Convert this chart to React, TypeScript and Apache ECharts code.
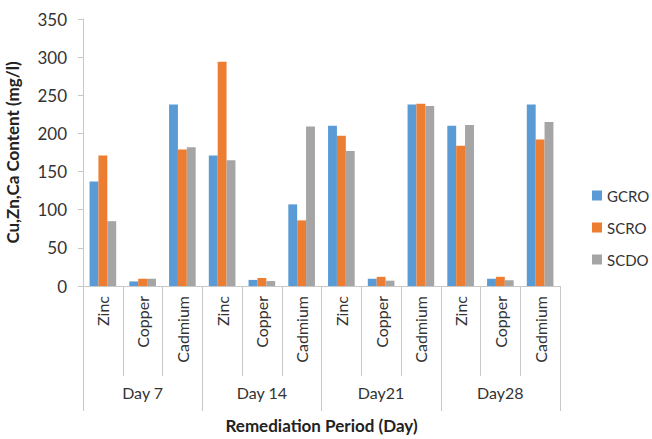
import React, { useEffect, useRef } from "react";
import * as echarts from "echarts";

const metals = ["Zinc", "Copper", "Cadmium", "Zinc", "Copper", "Cadmium", "Zinc", "Copper", "Cadmium", "Zinc", "Copper", "Cadmium"];
const days = ["Day 7", "Day 14", "Day21", "Day28"];
const gcro = [137, 6, 238, 171, 8, 107, 210, 9.5, 238, 210, 9.5, 238];
const scro = [171, 9.5, 179, 294, 10.5, 86, 197, 12, 239, 184, 12, 192];
const scdo = [85, 9.5, 182, 165, 6.5, 209, 177, 7, 236, 211, 7.5, 215];
const yTicks = { min: 0, max: 350, interval: 50 };

const FONT = "Lato";
const TXT = "#333333";
const LINE = "#c8c8c8";

export default function App() {
  const ref = useRef<HTMLDivElement>(null);
  useEffect(() => {
    if (!ref.current) return;
    const chart = echarts.init(ref.current, undefined, { renderer: "svg" });
    chart.setOption({
      animation: false,
      textStyle: { fontFamily: FONT },
      grid: { left: 83, right: 92, top: 19, bottom: 153, containLabel: false, outerBoundsMode: "none" },
      legend: {
        orient: "vertical",
        left: 592,
        top: 188,
        padding: 0,
        itemWidth: 10,
        itemHeight: 10,
        itemGap: 17,
        icon: "rect",
        textStyle: { fontFamily: FONT, fontSize: 15, color: TXT },
        data: ["GCRO", "SCRO", "SCDO"],
      },
      xAxis: [
        {
          type: "category",
          data: metals,
          position: "bottom",
          axisLine: { show: true, lineStyle: { color: LINE, width: 1 } },
          axisTick: { show: true, length: 90, interval: 0, lineStyle: { color: LINE } },
          axisLabel: { interval: 0, rotate: 90, margin: 10, fontFamily: FONT, fontSize: 16, color: TXT },
          splitLine: { show: false },
        },
        {
          type: "category",
          data: days,
          position: "bottom",
          offset: 0,
          axisLine: { show: false },
          axisTick: { show: true, length: 125, interval: 0, lineStyle: { color: LINE } },
          axisLabel: { interval: 0, margin: 98, fontFamily: FONT, fontSize: 16, color: TXT },
          splitLine: { show: false },
          name: "Remediation Period (Day)",
          nameLocation: "middle",
          nameGap: 131,
          nameTextStyle: { fontFamily: FONT, fontSize: 17, fontWeight: "bold", color: "#222" },
        },
      ],
      yAxis: {
        type: "value",
        min: yTicks.min,
        max: yTicks.max,
        interval: yTicks.interval,
        axisLine: { show: true, lineStyle: { color: LINE } },
        axisTick: { show: true, length: 5, lineStyle: { color: LINE } },
        splitLine: { show: false },
        axisLabel: { margin: 16, fontFamily: FONT, fontSize: 17, color: TXT },
        name: "Cu,Zn,Ca Content (mg/l)",
        nameLocation: "middle",
        nameGap: 62,
        nameTextStyle: { fontFamily: FONT, fontSize: 17, fontWeight: "bold", color: "#222" },
      },
      series: [
        { name: "GCRO", type: "bar", data: gcro, xAxisIndex: 0, barGap: "0%", barCategoryGap: "33%", itemStyle: { color: "#5B9BD5" } },
        { name: "SCRO", type: "bar", data: scro, xAxisIndex: 0, barGap: "0%", barCategoryGap: "33%", itemStyle: { color: "#ED7D31" } },
        { name: "SCDO", type: "bar", data: scdo, xAxisIndex: 0, barGap: "0%", barCategoryGap: "33%", itemStyle: { color: "#A5A5A5" } },
      ],
    });
    return () => chart.dispose();
  }, []);
  return <div ref={ref} style={{ width: 652, height: 439, position: "absolute", left: 0, top: 0 }} />;
}
